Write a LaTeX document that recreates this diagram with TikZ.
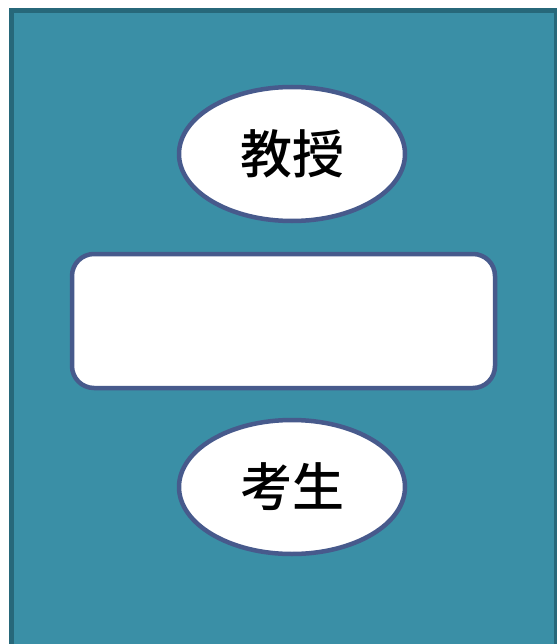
\documentclass[tikz,border=0pt]{standalone}
\usepackage{fontspec}
\newfontfamily\cjk{Noto Sans CJK SC Medium}
\usetikzlibrary{shapes.geometric}
\definecolor{bgfill}{HTML}{3A8FA6}
\definecolor{bgline}{HTML}{27687A}
\definecolor{nodeline}{HTML}{475A8C}
\begin{document}
\begin{tikzpicture}[x=1pt,y=-1pt,
  oval/.style={ellipse,draw=nodeline,line width=4.5pt,fill=white,minimum width=226pt,minimum height=134pt,inner sep=0pt,font=\cjk\fontsize{52}{60}\selectfont},
  panel/.style={rectangle,rounded corners=22pt,draw=nodeline,line width=4.5pt,fill=white,minimum width=423pt,minimum height=134pt,inner sep=0pt}]
\useasboundingbox (0,0) rectangle (556,644);
\draw[bgline,line width=5pt,fill=bgfill] (11.5,11) rectangle (556,646);
\node[oval] (prof) at (292,154) {教授};
\node[panel] (box) at (283.5,321) {};
\node[oval] (stud) at (292,487) {考生};
\end{tikzpicture}
\end{document}
